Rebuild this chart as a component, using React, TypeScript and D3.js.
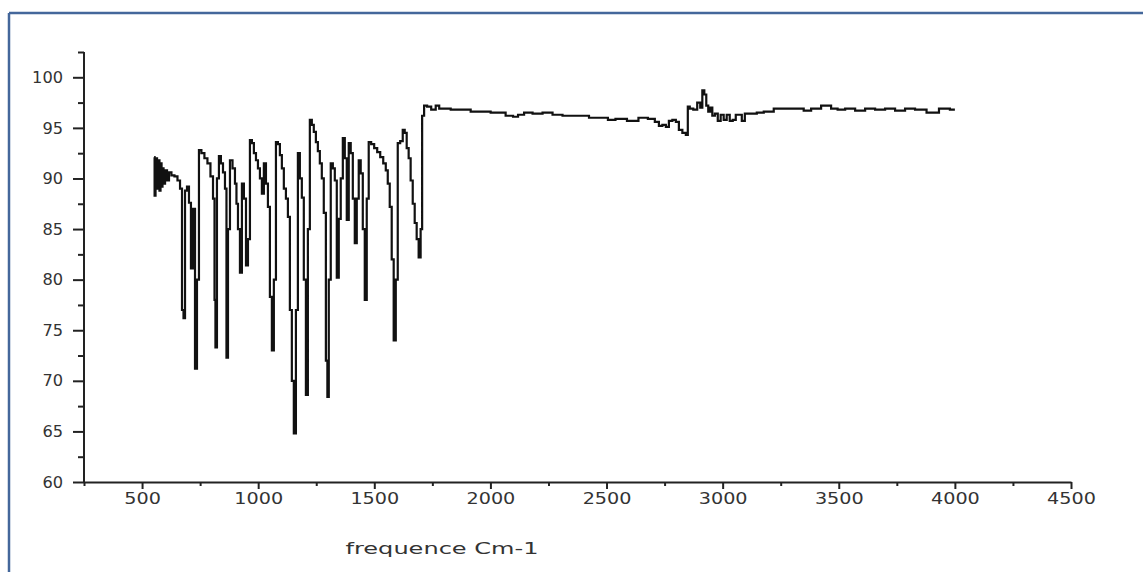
import React, { useEffect, useRef } from "react";
import * as d3 from "d3";

const wavenumbers: number[] = [
  552, 556, 560, 569, 573, 577, 582, 586, 590, 595, 603, 612, 620, 633, 646, 659,
  668, 676, 681, 689, 698, 706, 715, 724, 732, 741, 749, 762, 775, 788, 801, 810,
  814, 818, 827, 835, 844, 853, 861, 866, 874, 883, 896, 904, 909, 917, 926, 934,
  943, 952, 960, 969, 977, 986, 995, 1003, 1012, 1020, 1029, 1038, 1046, 1055, 1063,
  1072, 1081, 1089, 1098, 1106, 1115, 1124, 1132, 1141, 1149, 1158, 1167, 1175, 1184,
  1192, 1201, 1210, 1218, 1227, 1235, 1244, 1253, 1261, 1270, 1278, 1287, 1296, 1300,
  1308, 1317, 1326, 1334, 1343, 1351, 1360, 1369, 1377, 1386, 1394, 1403, 1412, 1420,
  1429, 1437, 1446, 1455, 1463, 1472, 1480, 1493, 1506, 1519, 1532, 1545, 1554, 1562,
  1571, 1579, 1588, 1597, 1605, 1618, 1627, 1635, 1644, 1652, 1661, 1670, 1678, 1687,
  1695, 1704, 1708, 1721, 1734, 1756, 1773, 1786, 1872, 1958, 2044, 2087, 2108, 2130,
  2160, 2203, 2246, 2289, 2332, 2388, 2461, 2495, 2517, 2560, 2616, 2659, 2697, 2719,
  2732, 2749, 2762, 2775, 2792, 2805, 2818, 2835, 2848, 2852, 2865, 2882, 2899, 2908,
  2917, 2925, 2934, 2942, 2951, 2960, 2973, 2985, 2998, 3011, 3024, 3037, 3050, 3063,
  3076, 3089, 3102, 3132, 3162, 3192, 3248, 3334, 3364, 3398, 3450, 3484, 3506, 3549,
  3592, 3635, 3678, 3721, 3764, 3807, 3850, 3906, 3957, 4000,
];

const transmittance: number[] = [
  92.1, 88.3, 92.0, 89.0, 91.8, 88.8, 91.5, 89.2, 91.0, 89.5, 90.8, 89.8, 90.6, 90.3, 90.2, 89.8,
  89.0, 77.0, 76.2, 88.8, 89.2, 87.6, 81.1, 87.0, 71.2, 80.0, 92.8, 92.5, 92.0, 91.5, 90.2, 88.0,
  78.0, 73.3, 90.0, 92.2, 91.5, 90.6, 89.0, 72.3, 85.0, 91.8, 91.0, 89.5, 87.5, 85.0, 80.7, 89.5,
  88.0, 81.4, 84.0, 93.8, 93.5, 92.5, 91.8, 91.0, 90.0, 88.5, 91.5, 89.5, 87.2, 78.3, 73.0,
  80.0, 93.6, 93.4, 92.3, 91.0, 89.0, 88.0, 86.2, 77.0, 70.0, 64.8, 77.0, 92.5, 90.0,
  88.1, 80.0, 68.6, 85.0, 95.8, 95.3, 94.6, 93.6, 92.7, 91.5, 90.0, 86.6, 72.0, 68.4,
  80.0, 91.5, 91.0, 89.8, 80.2, 86.0, 90.0, 94.0, 92.0, 85.9, 93.5, 92.5, 88.0, 83.6,
  88.0, 91.8, 90.5, 85.0, 78.0, 88.0, 93.6, 93.4, 93.0, 92.6, 92.1, 91.5, 90.8, 89.5,
  87.2, 82.0, 74.0, 80.0, 93.5, 93.7, 94.8, 94.5, 93.0, 92.0, 89.8, 87.5, 85.6, 84.0,
  82.2, 85.0, 96.2, 97.2, 97.1, 96.8, 97.2, 96.9, 96.8, 96.6, 96.5, 96.2, 96.1, 96.3,
  96.5, 96.4, 96.5, 96.3, 96.2, 96.2, 96.0, 96.0, 95.8, 95.9, 95.7, 96.0, 95.9, 95.6,
  95.2, 95.3, 95.1, 95.7, 95.8, 95.6, 94.8, 94.5, 94.3, 97.1, 96.9, 96.8, 97.5, 97.0,
  98.7, 98.3, 97.2, 96.6, 97.0, 96.2, 96.4, 95.7, 96.3, 95.8, 96.3, 95.7, 95.8, 96.3,
  96.3, 95.7, 96.4, 96.4, 96.5, 96.6, 96.9, 96.9, 96.7, 96.9, 97.2, 96.9, 96.8, 96.9,
  96.7, 96.9, 96.8, 96.9, 96.7, 96.9, 96.8, 96.5, 96.9, 96.8,
];

const xMajorTicks: number[] = [500, 1000, 1500, 2000, 2500, 3000, 3500, 4000, 4500];
const xMinorTicks: number[] = [250, 750, 1250, 1750, 2250, 2750, 3250, 3750, 4250];
const yMajorTicks: number[] = [60, 65, 70, 75, 80, 85, 90, 95, 100];
const yMinorTicks: number[] = [62.5, 67.5, 72.5, 77.5, 82.5, 87.5, 92.5, 97.5, 102.5];
const xLabel = "frequence Cm-1";

const W = 1143;
const H = 572;
const left = 84;
const right = 1071;
const top = 52;
const bottom = 482;

export default function App() {
  const ref = useRef<SVGSVGElement>(null);

  useEffect(() => {
    const svg = d3.select(ref.current);
    svg.selectAll("*").remove();

    const x = d3.scaleLinear().domain([250, 4500]).range([left, right]);
    const y = d3.scaleLinear().domain([60, 102.5]).range([bottom, top]);

    // frame
    svg.append("line").attr("x1", 9).attr("x2", W + 5).attr("y1", 13).attr("y2", 13)
      .attr("stroke", "#44679b").attr("stroke-width", 2.5);
    svg.append("line").attr("x1", 9).attr("x2", 9).attr("y1", 13).attr("y2", H + 5)
      .attr("stroke", "#44679b").attr("stroke-width", 2.5);

    const font = "'DejaVu Sans', Arial, sans-serif";

    // x axis
    const gx = svg.append("g").attr("transform", `translate(0,${bottom})`);
    gx.call(
      d3.axisBottom(x).tickValues(xMinorTicks).tickSize(4).tickFormat(() => "")
    );
    gx.call((g) => g.select(".domain").remove());
    const gx2 = svg.append("g").attr("transform", `translate(0,${bottom})`);
    gx2.call(
      d3.axisBottom(x).tickValues(xMajorTicks).tickSize(7).tickSizeOuter(0).tickPadding(4)
        .tickFormat((d) => String(d))
    );
    [gx, gx2].forEach((g) => {
      g.selectAll("line").attr("stroke", "#222").attr("stroke-width", 2);
      g.selectAll(".domain").attr("stroke", "#222").attr("stroke-width", 2);
    });
    gx2.selectAll<SVGTextElement, number>("text")
      .attr("font-family", font).attr("font-size", 16).attr("fill", "#333")
      .attr("textLength", (d) => String(d).length * 12.2)
      .attr("lengthAdjust", "spacingAndGlyphs");

    // y axis
    const gy = svg.append("g").attr("transform", `translate(${left},0)`);
    gy.call(
      d3.axisLeft(y).tickValues(yMinorTicks).tickSize(6).tickFormat(() => "")
    );
    gy.call((g) => g.select(".domain").remove());
    const gy2 = svg.append("g").attr("transform", `translate(${left},0)`);
    gy2.call(
      d3.axisLeft(y).tickValues(yMajorTicks).tickSize(11).tickSizeOuter(0).tickPadding(10)
        .tickFormat((d) => String(d))
    );
    gy2.select(".domain").attr("d", `M0,${y(102.5)}V${y(60)}`);
    [gy, gy2].forEach((g) => {
      g.selectAll("line").attr("stroke", "#222").attr("stroke-width", 2);
      g.selectAll(".domain").attr("stroke", "#222").attr("stroke-width", 2);
    });
    gy2.selectAll<SVGTextElement, number>("text")
      .attr("font-family", font).attr("font-size", 16).attr("fill", "#333")
      .attr("textLength", (d) => String(d).length * 10.3)
      .attr("lengthAdjust", "spacingAndGlyphs");

    // spectrum
    const data = wavenumbers.map((w, i) => [w, transmittance[i]] as [number, number]);
    const line = d3.line<[number, number]>()
      .x((d) => x(d[0]))
      .y((d) => y(d[1]))
      .curve(d3.curveStep);
    svg.append("path").datum(data).attr("d", line)
      .attr("fill", "none").attr("stroke", "#111").attr("stroke-width", 2.2)
      .attr("stroke-linejoin", "miter");

    // x label
    svg.append("text").attr("x", 442).attr("y", 554).attr("text-anchor", "middle")
      .attr("font-family", font).attr("font-size", 16).attr("fill", "#333")
      .attr("textLength", 193).attr("lengthAdjust", "spacingAndGlyphs")
      .text(xLabel);
  }, []);

  return (
    <svg
      ref={ref}
      width={W}
      height={H}
      style={{ position: "absolute", left: 0, top: 0, background: "#fff" }}
    />
  );
}
